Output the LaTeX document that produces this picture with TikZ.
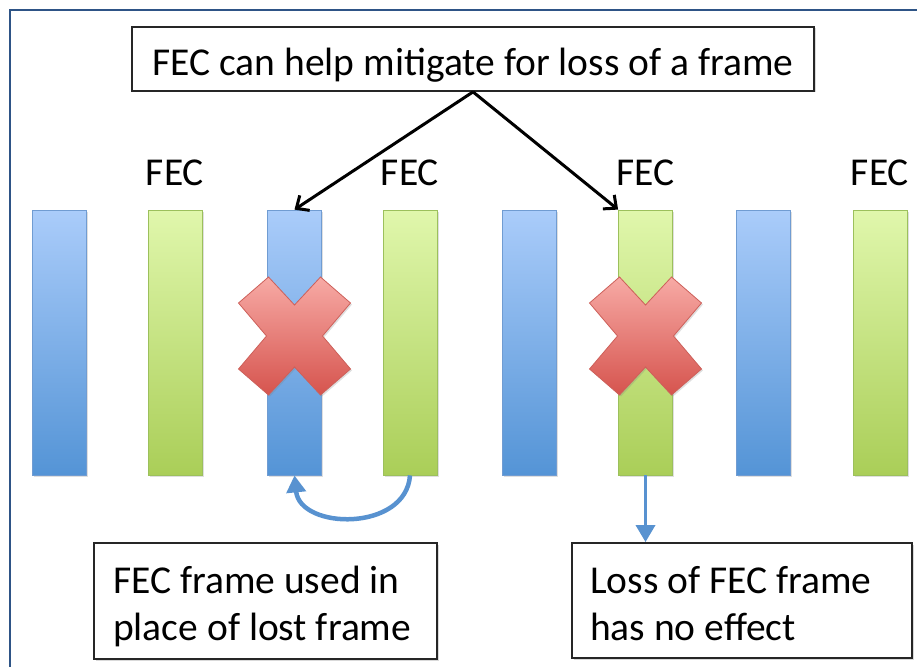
\documentclass[tikz,border=0pt]{standalone}
\usepackage{fontspec}
\setmainfont{Carlito}
\usetikzlibrary{arrows.meta,shadows,calc}
\definecolor{frameblue}{RGB}{46,84,134}
\definecolor{bluetop}{RGB}{170,204,250}
\definecolor{bluebot}{RGB}{84,148,214}
\definecolor{blueedge}{RGB}{112,156,210}
\definecolor{greentop}{RGB}{224,247,172}
\definecolor{greenbot}{RGB}{170,206,88}
\definecolor{greenedge}{RGB}{156,192,92}
\definecolor{redtop}{RGB}{247,170,165}
\definecolor{redbot}{RGB}{214,84,78}
\definecolor{rededge}{RGB}{205,96,90}
\definecolor{arrowblue}{RGB}{88,146,208}
\begin{document}
\begin{tikzpicture}[x=1pt,y=-1pt,
  bar/.style={minimum width=54pt, minimum height=265pt, inner sep=0pt, line width=0.8pt,
    drop shadow={opacity=0.25, shadow xshift=1.5pt, shadow yshift=-1.5pt}},
  bluebar/.style={bar, draw=blueedge, top color=bluetop, bottom color=bluebot},
  greenbar/.style={bar, draw=greenedge, top color=greentop, bottom color=greenbot},
  xmark/.style={draw=rededge, line width=0.8pt, top color=redtop, bottom color=redbot,
    drop shadow={opacity=0.25, shadow xshift=1.5pt, shadow yshift=-1.5pt}},
  bigfont/.style={font=\fontsize{39.5}{47}\selectfont},
  textbox/.style={draw=black!85, line width=1.8pt, fill=white, inner sep=0pt,
    drop shadow={opacity=0.3, shadow xshift=1.5pt, shadow yshift=-1.5pt}},
  fec/.style={bigfont, anchor=base, inner sep=0pt},
  lbl/.style={bigfont, anchor=north west, align=left, inner sep=0pt},
  blk/.style={draw=black, line width=3pt, -{Straight Barb[length=10pt,width=18pt,line width=3pt]}},
  bluearr/.style={draw=arrowblue, -{Triangle[length=17pt,width=19pt]}}
]
\useasboundingbox (0,0) rectangle (917,666);
% outer frame
\draw[frameblue, line width=2.5pt] (10,10) rectangle (940,690);

% frames
\node[bluebar]  (f1) at (59.5,342.5) {};
\node[greenbar] (f2) at (175,342.5) {};
\node[bluebar]  (f3) at (294.5,342.5) {};
\node[greenbar] (f4) at (410,342.5) {};
\node[bluebar]  (f5) at (529.5,342.5) {};
\node[greenbar] (f6) at (645.5,342.5) {};
\node[bluebar]  (f7) at (763.5,342.5) {};
\node[greenbar] (f8) at (880,342.5) {};

% FEC labels
\node[fec] (l2) at (175,185) {FEC};
\node[fec] (l4) at (410,185) {FEC};
\node[fec] (l6) at (645.5,185) {FEC};
\node[fec] (l8) at (880,185) {FEC};

% red crosses
\foreach \cx in {294.5,645.5}{
  \path[xmark, shift={(\cx,336)}]
    (-56,-33) -- (-26,-59) -- (0,-31) -- (26,-59) -- (56,-33) -- (28,0) --
    (56,33) -- (26,59) -- (0,31) -- (-26,59) -- (-56,33) -- (-28,0) -- cycle;
}

% top box
\node[textbox, bigfont, minimum width=682pt, text height=49pt, text depth=15pt]
  (top) at (473,59) {FEC can help mitigate for loss of a frame};

% bottom boxes
\node[textbox, minimum width=343pt, minimum height=116pt] (lb) at (265.5,601) {};
\node[lbl] (lbt) at (113,566) {FEC frame used in\\place of lost frame};
\node[textbox, minimum width=340pt, minimum height=115pt] (rb) at (742,600.5) {};
\node[lbl] (rbt) at (590,566) {Loss of FEC frame\\has no effect};

% arrows
\draw[blk] (top.south) -- (f3.north);
\draw[blk] (top.south) -- (f6.north west);
\draw[bluearr, line width=4.5pt] (f4.south) .. controls (406,532) and (300,530) .. (f3.south);
\draw[bluearr, line width=3.5pt] (f6.south) -- (f6.south |- rb.north);
\end{tikzpicture}
\end{document}
